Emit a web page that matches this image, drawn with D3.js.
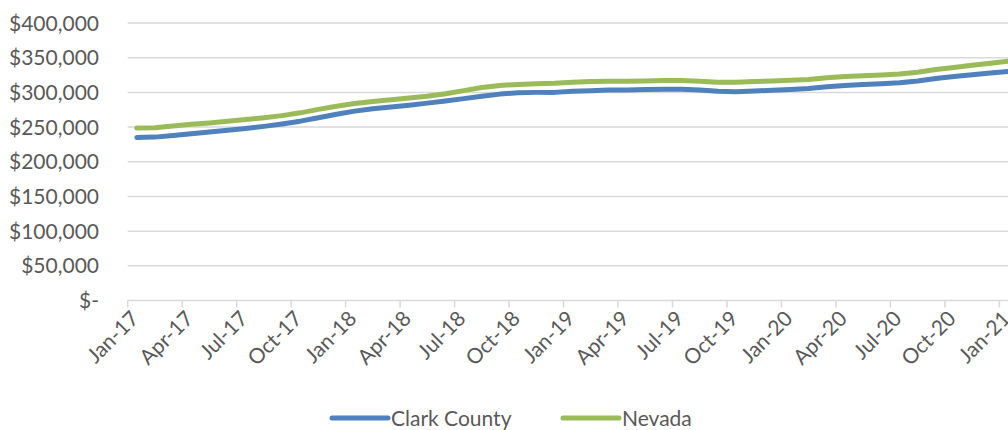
<!DOCTYPE html>
<html>
<head>
<meta charset="utf-8">
<script src="https://cdn.jsdelivr.net/npm/d3@7"></script>
<style>
  html, body { margin: 0; padding: 0; background: #fff; }
  svg { display: block; font-family: Lato, "Open Sans", sans-serif; }
</style>
</head>
<body>
<svg id="chart" width="1008" height="430"></svg>
<script>
// Monthly categories, Jan 2017 – Jan 2021
const months = [
  "2017-01","2017-02","2017-03","2017-04","2017-05","2017-06","2017-07","2017-08","2017-09","2017-10","2017-11","2017-12",
  "2018-01","2018-02","2018-03","2018-04","2018-05","2018-06","2018-07","2018-08","2018-09","2018-10","2018-11","2018-12",
  "2019-01","2019-02","2019-03","2019-04","2019-05","2019-06","2019-07","2019-08","2019-09","2019-10","2019-11","2019-12",
  "2020-01","2020-02","2020-03","2020-04","2020-05","2020-06","2020-07","2020-08","2020-09","2020-10","2020-11","2020-12",
  "2021-01"
];

// Median home price, Clark County
const clarkCounty = [
  235000, 235500, 238000, 240500, 243000, 245500, 248000, 251000, 254500, 258500, 263500, 268500,
  273000, 276500, 279000, 281500, 284500, 287500, 291000, 294500, 297500, 299500, 300000, 300000,
  301500, 302500, 303500, 303500, 304000, 304500, 304500, 303500, 301500, 301000, 302000, 303000,
  304000, 305500, 308000, 310000, 311500, 312500, 314000, 316500, 320000, 323000, 325500, 328000,
  330000
];

// Median home price, Nevada statewide
const nevada = [
  248500, 249000, 251500, 254000, 256000, 258500, 261000, 263500, 266500, 270500, 275500, 280000,
  284000, 287000, 289500, 292000, 294500, 298000, 302500, 307000, 310000, 311500, 312500, 313000,
  314500, 315500, 316000, 316000, 316500, 317000, 317000, 316000, 314500, 314500, 315500, 316500,
  317500, 318500, 321000, 323000, 324000, 325000, 326500, 329000, 333000, 336000, 339000, 342000,
  345000
];

// Quarterly axis labels
const tickMonths = months.filter((m, i) => i % 3 === 0);
const tickLabels = [
  "Jan-17","Apr-17","Jul-17","Oct-17","Jan-18","Apr-18","Jul-18","Oct-18","Jan-19",
  "Apr-19","Jul-19","Oct-19","Jan-20","Apr-20","Jul-20","Oct-20","Jan-21"
];
const yTicks = [0, 50000, 100000, 150000, 200000, 250000, 300000, 350000, 400000];

const series = [
  { name: "Clark County", values: clarkCounty, color: "#4f81bd" },
  { name: "Nevada", values: nevada, color: "#9bbb59" }
];

const svg = d3.select("#chart");
const left = 127.7, step = 18.16;
const x = d3.scaleBand().domain(months).range([left, left + months.length * step]).padding(0);
const y = d3.scaleLinear().domain([0, 400000]).range([300.5, 23]);
const textColor = "#595959";
const gridColor = "#d9d9d9";
const fontSize = 21;

// Horizontal gridlines
svg.append("g")
  .selectAll("line")
  .data(yTicks.filter(d => d > 0))
  .join("line")
  .attr("x1", left).attr("x2", 1008)
  .attr("y1", d => y(d)).attr("y2", d => y(d))
  .attr("stroke", gridColor).attr("stroke-width", 1.5);

// Y-axis labels
const fmt = d3.format(",");
svg.append("g")
  .selectAll("text")
  .data(yTicks)
  .join("text")
  .attr("x", 99).attr("y", d => y(d))
  .attr("dy", "0.36em")
  .attr("text-anchor", "end")
  .attr("fill", textColor)
  .attr("font-size", fontSize)
  .text(d => d === 0 ? "$-" : "$" + fmt(d));

// X axis baseline and quarter tick marks
const xAxis = svg.append("g");
xAxis.append("line")
  .attr("x1", left).attr("x2", 1008)
  .attr("y1", y(0)).attr("y2", y(0))
  .attr("stroke", gridColor).attr("stroke-width", 1.5);
xAxis.selectAll("line.tick")
  .data(tickMonths)
  .join("line")
  .attr("class", "tick")
  .attr("x1", d => x(d)).attr("x2", d => x(d))
  .attr("y1", y(0)).attr("y2", y(0) + 7)
  .attr("stroke", gridColor).attr("stroke-width", 1.5);
xAxis.selectAll("text")
  .data(tickMonths)
  .join("text")
  .attr("transform", d => `translate(${x(d) + 7},${y(0) + 14}) rotate(-45)`)
  .attr("text-anchor", "end")
  .attr("dy", "0.36em")
  .attr("fill", textColor)
  .attr("font-size", fontSize)
  .text((d, i) => tickLabels[i]);

// Series lines, each point at the middle of its month
const line = d3.line()
  .x((d, i) => x(months[i]) + x.bandwidth() / 2)
  .y(d => y(d));

svg.append("g")
  .selectAll("path")
  .data(series)
  .join("path")
  .attr("d", d => line(d.values))
  .attr("fill", "none")
  .attr("stroke", d => d.color)
  .attr("stroke-width", 5)
  .attr("stroke-linejoin", "round")
  .attr("stroke-linecap", "round");

// Legend
const legend = svg.append("g")
  .selectAll("g")
  .data(series)
  .join("g")
  .attr("transform", (d, i) => `translate(${[332, 563][i]},418)`);
legend.append("line")
  .attr("x1", 0).attr("x2", 56)
  .attr("stroke", d => d.color).attr("stroke-width", 5)
  .attr("stroke-linecap", "round");
legend.append("text")
  .attr("x", 59).attr("dy", "0.36em")
  .attr("fill", textColor)
  .attr("font-size", fontSize)
  .text(d => d.name);
</script>
</body>
</html>
